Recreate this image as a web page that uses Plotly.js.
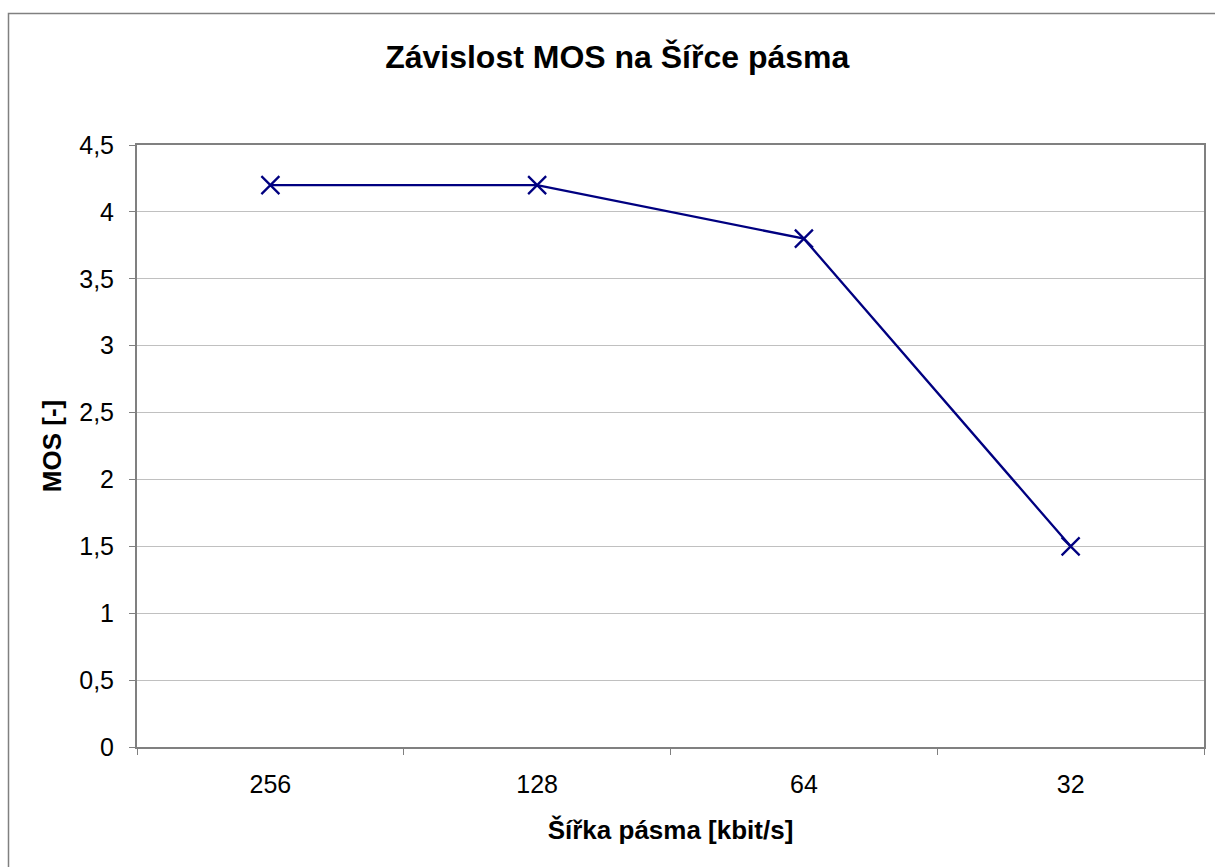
<!DOCTYPE html>
<html>
<head>
<meta charset="utf-8">
<script src="https://cdn.plot.ly/plotly-3.0.1.min.js"></script>
<style>
html,body{margin:0;padding:0;background:#fff;}
#chart{width:1215px;height:867px;}
</style>
</head>
<body>
<div id="chart"></div>
<script>
const categories = ["256", "128", "64", "32"];
const mosValues = [4.2, 4.2, 3.8, 1.5];
const yTickVals = [0, 0.5, 1, 1.5, 2, 2.5, 3, 3.5, 4, 4.5];
const yTickText = ["0", "0,5", "1", "1,5", "2", "2,5", "3", "3,5", "4", "4,5"];

const L = 137, R = 1204, T = 145, B = 747;
const W = R - L, H = B - T;
function px(x){ return (x - L) / W; }
function py(y){ return (B - y) / H; }

const trace = {
  x: categories,
  y: mosValues,
  type: "scatter",
  mode: "lines+markers",
  line: {color: "#000080", width: 2.3},
  marker: {symbol: "x-thin", size: 18, line: {color: "#000080", width: 2.3}, color: "#000080"},
  hoverinfo: "skip"
};

const FF = "Liberation Sans, Arial, sans-serif";

const layout = {
  width: 1215, height: 867,
  margin: {l: L, r: 1215 - R, t: T, b: 867 - B, pad: 0},
  paper_bgcolor: "#ffffff",
  plot_bgcolor: "#ffffff",
  showlegend: false,
  font: {family: FF, color: "#000000", size: 25},
  title: {
    text: "<b>Závislost MOS na Šířce pásma</b>",
    font: {size: 32, family: FF, color: "#000"},
    x: 0.508, xanchor: "center", y: 1 - 57/867, yanchor: "middle"
  },
  xaxis: {
    type: "category",
    range: [-0.5, 3.5],
    tickson: "boundaries",
    ticks: "outside", ticklen: 6, tickcolor: "#808080", tickwidth: 1,
    ticklabelstandoff: 14,
    showgrid: false, zeroline: false,
    showline: true, linecolor: "#808080", linewidth: 2, mirror: true,
    tickfont: {size: 25},
    title: {text: "<b>Šířka pásma [kbit/s]</b>", font: {size: 26}, standoff: 24},
    fixedrange: true
  },
  yaxis: {
    range: [0, 4.5],
    tickvals: yTickVals, ticktext: yTickText,
    ticks: "outside", ticklen: 6, tickcolor: "#808080", tickwidth: 1,
    ticklabelstandoff: 10,
    showgrid: true, gridcolor: "#c0c0c0", gridwidth: 1,
    zeroline: false,
    showline: true, linecolor: "#808080", linewidth: 2, mirror: true,
    tickfont: {size: 25},
    title: {text: "<b>MOS [-]</b>", font: {size: 26}, standoff: 10},
    fixedrange: true
  },
  shapes: [{
    type: "rect", xref: "paper", yref: "paper",
    x0: px(8.5), x1: px(1225), y0: py(880), y1: py(13.5),
    line: {color: "#808080", width: 1.5}, fillcolor: "rgba(0,0,0,0)", layer: "below"
  }]
};

Plotly.newPlot("chart", [trace], layout, {displayModeBar: false, staticPlot: true});
</script>
</body>
</html>
